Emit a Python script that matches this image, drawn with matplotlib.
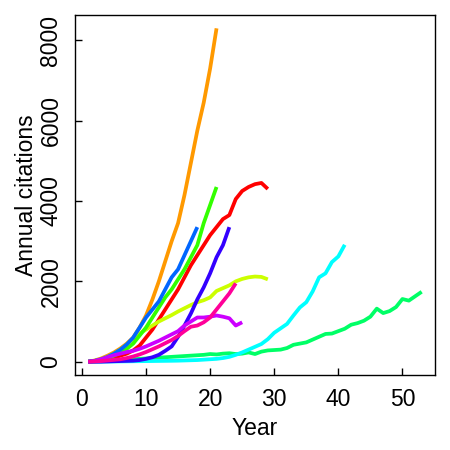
import matplotlib
matplotlib.use("Agg")
import numpy as np
from matplotlib import pyplot as plt

matplotlib.rcParams.update({'font.family': ['Liberation Sans', 'DejaVu Sans'], 'font.size': 16.5})

# annual citations per year since first publication, one series per person
red = [0, 10, 30, 60, 100, 150, 200, 280, 400, 600, 800, 1050, 1300, 1550, 1800, 2100,
       2400, 2650, 2900, 3150, 3350, 3550, 3650, 4050, 4250, 4350, 4420, 4450, 4300]
orange = [0, 30, 80, 150, 230, 330, 450, 600, 850, 1150, 1550, 2000, 2500, 3000, 3450,
          4150, 4950, 5750, 6450, 7300, 8300]
yellowgreen = [0, 20, 60, 120, 200, 300, 430, 570, 700, 800, 900, 1000, 1080, 1160, 1250,
               1330, 1410, 1480, 1530, 1600, 1760, 1830, 1900, 2000, 2060, 2100, 2120, 2110, 2050]
green = [0, 20, 50, 90, 150, 230, 320, 450, 650, 850, 1100, 1350, 1600, 1800, 2050, 2300,
         2600, 2900, 3450, 3900, 4350]
springgreen = [0, 5, 10, 20, 30, 40, 50, 60, 70, 80, 90, 100, 110, 120, 130, 140, 150, 160,
               170, 190, 180, 200, 210, 190, 200, 230, 190, 250, 280, 290, 300, 340, 420, 450,
               480, 550, 620, 690, 700, 760, 820, 920, 960, 1020, 1120, 1320, 1210, 1260, 1360,
               1560, 1520, 1630, 1740]
cyan = [0, 0, 2, 3, 5, 6, 8, 10, 12, 14, 16, 18, 20, 22, 25, 30, 35, 40, 50, 60, 70, 90, 120,
        170, 230, 300, 370, 440, 560, 720, 830, 940, 1150, 1350, 1480, 1750, 2100, 2200, 2480,
        2620, 2910]
blue = [0, 20, 60, 120, 200, 300, 430, 600, 850, 1100, 1300, 1500, 1800, 2100, 2300, 2650,
        3000, 3350]
violet = [0, 0, 0, 5, 10, 15, 20, 25, 40, 70, 110, 170, 270, 380, 620, 900, 1200, 1550, 1850,
          2200, 2600, 2900, 3350]
purple = [0, 20, 60, 110, 160, 200, 240, 270, 320, 380, 450, 520, 600, 680, 760, 900, 1000,
          1100, 1100, 1120, 1150, 1120, 1080, 900, 980]
pink = [0, 5, 15, 30, 45, 60, 90, 130, 180, 240, 310, 380, 460, 540, 640, 760, 870, 900, 980,
        1100, 1300, 1500, 1700, 1950]

series = [red, orange, yellowgreen, green, springgreen, cyan, blue, violet, purple, pink]
# R rainbow(10)
colors = ["#FF0000", "#FF9900", "#CCFF00", "#33FF00", "#00FF66",
          "#00FFFF", "#0066FF", "#3300FF", "#CC00FF", "#FF0099"]

fig = plt.figure(figsize=(4.5, 4.5), dpi=100)
ax = fig.add_axes([75/450, 75/450, 360/450, 360/450])

for s, c in zip(series, colors):
    years = np.arange(1, len(s) + 1)
    ax.plot(years, s, color=c, lw=2.7, solid_capstyle='butt')

ax.margins(x=0.04, y=0.04)
ax.set_xticks([0, 10, 20, 30, 40, 50])
ax.set_yticks([0, 2000, 4000, 6000, 8000])
ax.tick_params(direction='in', length=5, width=1, pad=9)
for lab in ax.get_yticklabels():
    lab.set_rotation(90)
    lab.set_va('center')
for sp in ax.spines.values():
    sp.set_linewidth(1)

ax.set_xlabel("Year")
ax.set_ylabel("Annual citations")
ax.xaxis.set_label_coords(0.5, -0.116)
ax.yaxis.set_label_coords(-0.102, 0.5)

fig.savefig("out.png", dpi=100)
